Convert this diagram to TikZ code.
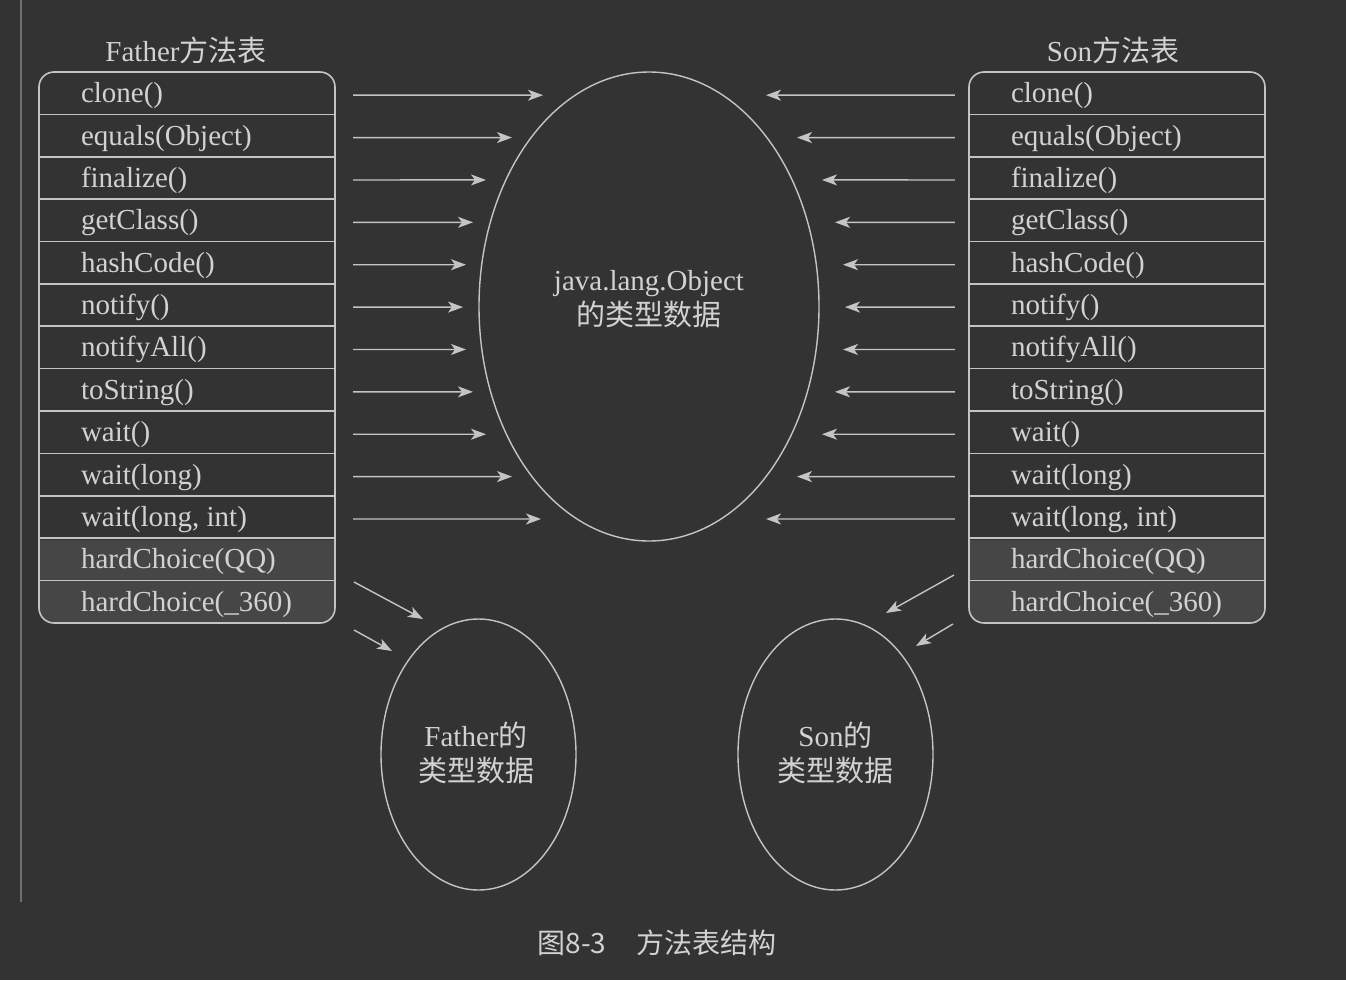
\documentclass[tikz,border=0pt]{standalone}
\usepackage{fontspec}
\setmainfont{Liberation Serif}
\newfontfamily\cjk{Noto Sans CJK SC}
\usetikzlibrary{shapes.geometric,arrows.meta}
\definecolor{bg}{HTML}{333333}
\definecolor{fg}{HTML}{D2D2D2}
\definecolor{ln}{HTML}{C4C4C4}
\definecolor{hl}{HTML}{464646}
\definecolor{vline}{HTML}{6E6E6E}
\begin{document}
\begin{tikzpicture}[x=1pt,y=-1pt,
  row/.style={minimum width=296pt,minimum height=42.4pt,inner sep=0pt},
  lbl/.style={anchor=west,text=fg,inner sep=0pt,font=\fontsize{29}{35}\selectfont,text height=21pt,text depth=7pt},
  ttl/.style={text=fg,inner sep=0pt,font=\fontsize{29}{35}\selectfont},
  oval/.style={draw=ln,line width=1.4pt,ellipse,inner sep=0pt},
  otxt/.style={text=fg,align=center,inner sep=0pt,font=\fontsize{29}{35}\selectfont},
  arr/.style={draw=ln,line width=1.4pt,-{Stealth[length=15pt,width=11pt,inset=4pt]}},
  tbl/.style={draw=ln,line width=1.6pt}
]
\fill[bg] (0,0) rectangle (1346,980);
\useasboundingbox (0,0) rectangle (1346,980);
\draw[vline,line width=1.4pt] (21,0) -- (21,902);

% ---------- tables ----------
\foreach \tx/\pre in {39/f,969/s}{
  \begin{scope}
    \clip[rounded corners=15pt] (\tx,72) rectangle ++(296,551);
    \fill[hl] (\tx,540.2) rectangle ++(296,83);
  \end{scope}
  \foreach \i in {1,...,12}{
    \draw[tbl] (\tx,72+42.38*\i) -- ++(296,0);
  }
  \draw[tbl,rounded corners=15pt] (\tx,72) rectangle ++(296,551);
  \foreach \i in {1,...,13}{
    \node[row] (\pre\i) at (\tx+148,72+42.38*\i-21.19) {};
  }
}

\node[ttl] (ftitle) at (186,50) {Father{\cjk 方法表}};
\node[ttl] (stitle) at (1113,50) {Son{\cjk 方法表}};

\foreach \i/\t in {1/clone(),2/equals(Object),3/finalize(),4/getClass(),5/hashCode(),6/notify(),7/notifyAll(),8/toString(),9/wait(),10/wait(long),11/{wait(long, int)},12/hardChoice(QQ),13/hardChoice(\_360)}{
  \node[lbl] (fl\i) at ([xshift=42pt,yshift=-2.5pt]f\i.west) {\t};
  \node[lbl] (sl\i) at ([xshift=42pt,yshift=-2.5pt]s\i.west) {\t};
}

% ---------- ellipses ----------
\node[oval,minimum width=340pt,minimum height=469pt] (obj) at (649,306.5) {};
\node[otxt] (objtxt) at (649,299.5) {java.lang.Object\\{\cjk 的类型数据}};
\node[oval,minimum width=195pt,minimum height=271pt] (fdata) at (478.5,754.5) {};
\node[otxt] (fdtxt) at (476,752.5) {Father{\cjk 的}\\{\cjk 类型数据}};
\node[oval,minimum width=195pt,minimum height=271pt] (sdata) at (835.5,754.5) {};
\node[otxt] (sdtxt) at (835.5,752.5) {Son{\cjk 的}\\{\cjk 类型数据}};

% ---------- arrows to Object ----------
\foreach \i/\lx/\rx in {1/543/766,2/512/797,3/486/822,4/473/835,5/466/843,6/463/845,7/466/843,8/473/835,9/486/822,10/512/797,11/541/766}{
  \coordinate (le\i) at (\lx,72+42.38*\i-19.2);
  \coordinate (re\i) at (\rx,72+42.38*\i-19.2);
  \draw[arr] ([xshift=18pt,yshift=-2pt]f\i.east) -- (le\i);
  \draw[arr] ([xshift=-14pt,yshift=-2pt]s\i.west) -- (re\i);
}

% ---------- arrows to own type data ----------
\coordinate (fa1) at (354,582);  \coordinate (fb1) at (423,619);
\coordinate (fa2) at (354,630);  \coordinate (fb2) at (392,651);
\coordinate (sa1) at (954,575);  \coordinate (sb1) at (886,613);
\coordinate (sa2) at (953,624);  \coordinate (sb2) at (916,646);
\draw[arr] (fa1) -- (fb1);
\draw[arr] (fa2) -- (fb2);
\draw[arr] (sa1) -- (sb1);
\draw[arr] (sa2) -- (sb2);

% ---------- caption ----------
\node[text=fg,inner sep=0pt,font=\cjk\fontsize{28}{32}\selectfont] (cap) at (657,943) {图8-3\hspace{30pt}方法表结构};
\end{tikzpicture}
\end{document}
